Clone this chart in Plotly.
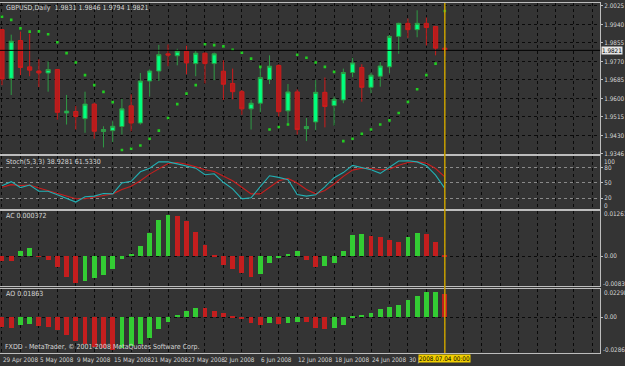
import plotly.graph_objects as go

W, H = 625, 366

# ---------------- data ----------------
symbol = "GBPUSD,Daily"
opens = [1.9916, 1.9692, 1.9866, 1.9745, 1.9726, 1.9717, 1.9733, 1.9533, 1.9540, 1.9507,
         1.9574, 1.9448, 1.9452, 1.9471, 1.9566, 1.9487, 1.9680, 1.9726, 1.9805, 1.9796,
         1.9817, 1.9760, 1.9808, 1.9760, 1.9725, 1.9669, 1.9631, 1.9552, 1.9578, 1.9687,
         1.9751, 1.9543, 1.9630, 1.9461, 1.9492, 1.9628, 1.9567, 1.9593, 1.9719, 1.9742,
         1.9651, 1.9702, 1.9745, 1.9885, 1.9945, 1.9916, 1.9945, 1.9931, 1.9831]
highs = [1.9920, 1.9893, 1.9907, 1.9898, 1.9780, 1.9770, 1.9735, 1.9616, 1.9566, 1.9631,
         1.9580, 1.9472, 1.9495, 1.9598, 1.9619, 1.9717, 1.9734, 1.9846, 1.9848, 1.9828,
         1.9843, 1.9820, 1.9811, 1.9811, 1.9775, 1.9737, 1.9639, 1.9593, 1.9745, 1.9798,
         1.9757, 1.9666, 1.9642, 1.9510, 1.9684, 1.9696, 1.9608, 1.9737, 1.9787, 1.9757,
         1.9717, 1.9767, 1.9892, 1.9948, 1.9967, 2.0005, 1.9972, 1.9931, 1.9846]
lows = [1.9661, 1.9616, 1.9707, 1.9702, 1.9652, 1.9631, 1.9502, 1.9480, 1.9457, 1.9442,
        1.9415, 1.9375, 1.9399, 1.9434, 1.9449, 1.9480, 1.9608, 1.9680, 1.9748, 1.9752,
        1.9711, 1.9702, 1.9669, 1.9684, 1.9593, 1.9596, 1.9525, 1.9457, 1.9536, 1.9666,
        1.9517, 1.9480, 1.9434, 1.9404, 1.9454, 1.9467, 1.9475, 1.9578, 1.9696, 1.9585,
        1.9624, 1.9654, 1.9715, 1.9805, 1.9878, 1.9881, 1.9843, 1.9798, 1.9794]
closes = [1.9689, 1.9863, 1.9742, 1.9730, 1.9717, 1.9733, 1.9536, 1.9542, 1.9517, 1.9574,
          1.9449, 1.9457, 1.9472, 1.9552, 1.9487, 1.9680, 1.9726, 1.9801, 1.9799, 1.9817,
          1.9763, 1.9808, 1.9760, 1.9805, 1.9665, 1.9631, 1.9552, 1.9578, 1.9696, 1.9748,
          1.9539, 1.9630, 1.9457, 1.9471, 1.9628, 1.9563, 1.9596, 1.9719, 1.9763, 1.9651,
          1.9707, 1.9749, 1.9885, 1.9945, 1.9916, 1.9945, 1.9926, 1.9831, 1.9821]
sar = [1.9975, 1.9961, 1.9922, 1.9907, 1.9908, 1.9895, 1.9858, 1.9808, 1.9765, 1.9707,
       1.9661, 1.9630, 1.9583, 1.9363, 1.9369, 1.9384, 1.9415, 1.9452, 1.9510, 1.9574,
       1.9622, 1.9661, 1.9849, 1.9845, 1.9839, 1.9824, 1.9810, 1.9783, 1.9745, 1.9457,
       1.9469, 1.9480, 1.9801, 1.9787, 1.9765, 1.9745, 1.9722, 1.9404, 1.9415, 1.9437,
       1.9457, 1.9480, 1.9499, 1.9533, 1.9584, 1.9642, 1.9707, 1.9760, 2.0002]
stoch_k = [44.4, 52.2, 40.6, 45.7, 33.5, 33.5, 26.4, 18.6, 12.2, 22.5,
           23.8, 29.0, 28.3, 49.6, 52.8, 71.5, 78.6, 90.9, 90.9, 87.0,
           83.1, 78.6, 65.7, 67.7, 50.9, 38.0, 18.6, 20.6, 42.5, 63.8,
           60.6, 56.1, 27.0, 23.8, 26.4, 42.0, 60.0, 70.0, 84.0, 79.9,
           75.4, 68.5, 80.5, 92.8, 93.2, 90.9, 83.6, 65.1, 38.9281]
stoch_d = [41.2, 46.4, 44.4, 45.7, 39.9, 34.8, 29.6, 23.8, 18.6, 18.6,
           21.2, 25.1, 28.3, 36.7, 43.2, 54.1, 67.0, 78.0, 87.7, 89.6,
           86.4, 81.2, 75.4, 72.2, 63.8, 54.1, 41.2, 28.3, 28.3, 41.2,
           54.1, 58.6, 49.6, 36.7, 28.3, 34.8, 47.7, 62.5, 74.8, 78.6,
           78.0, 75.4, 76.7, 84.4, 89.6, 91.5, 88.3, 78.0, 61.5330]
ac = [-0.0012, -0.0014, 0.0015, 0.0023, -0.0001, -0.0009, -0.0029, -0.0056, -0.0075, -0.0068,
      -0.0061, -0.0052, -0.0034, -0.0007, 0.0008, 0.0030, 0.0066, 0.0102, 0.0116, 0.0113,
      0.0097, 0.0068, 0.0033, 0.0003, -0.0023, -0.0034, -0.0047, -0.0056, -0.0048, -0.0018,
      -0.0005, 0.0007, 0.0014, -0.0011, -0.0029, -0.0027, -0.0018, 0.0016, 0.0060, 0.0063,
      0.0056, 0.0053, 0.0045, 0.0041, 0.0055, 0.0066, 0.0062, 0.0041, 0.000372]
ao = [-0.0081, -0.0087, -0.0062, -0.0054, -0.0068, -0.0076, -0.0103, -0.0144, -0.0190, -0.0217,
      -0.0238, -0.0250, -0.0260, -0.0244, -0.0230, -0.0217, -0.0168, -0.0095, -0.0035, 0.0019,
      0.0054, 0.0076, 0.0073, 0.0054, 0.0035, 0.0014, -0.0014, -0.0046, -0.0062, -0.0049,
      -0.0054, -0.0046, -0.0035, -0.0041, -0.0087, -0.0095, -0.0089, -0.0062, 0.0005, 0.0022,
      0.0038, 0.0068, 0.0087, 0.0103, 0.0144, 0.0176, 0.0206, 0.0209, 0.01863]
tick_labels = ["29 Apr 2008", "5 May 2008", "9 May 2008", "15 May 2008", "21 May 2008",
               "27 May 2008", "2 Jun 2008", "6 Jun 2008", "12 Jun 2008", "18 Jun 2008",
               "24 Jun 2008", "30 Jun 2008"]
label_step = 4
last_time = "2008.07.04 00:00"
price_ticks = [2.0025, 1.9940, 1.9855, 1.9770, 1.9685, 1.9600, 1.9515, 1.9430, 1.9346]
stoch_levels = [80, 50, 20]
stoch_edges = (100, 0)
ac_edges = (0.01261, -0.00839)
ao_edges = (0.02298, -0.02866)
footer = "FXDD - MetaTrader, © 2001-2008 MetaQuotes Software Corp."

# ---------------- style ----------------
BG = "#343434"
FRAME = "#bdbdbd"
TXT = "#d6d6d6"
GRID = "#0a0a0a"
GREEN = "#33cc33"
RED = "#c41e1e"
FONT = "Liberation Sans Narrow, DejaVu Sans Condensed, Liberation Sans, sans-serif"
FS = 7
FS_SMALL = 6.3

n = len(closes)
bars = list(range(n))


def py(px):
    return 1 - px / H


def updown(vals):
    return [GREEN if (i > 0 and v > vals[i - 1]) else RED for i, v in enumerate(vals)]


fig = go.Figure()

fig.add_trace(go.Candlestick(
    x=bars, open=opens, high=highs, low=lows, close=closes,
    increasing=dict(line=dict(color="#2f9a45", width=1), fillcolor="#00ff7f"),
    decreasing=dict(line=dict(color="#cc1c1c", width=1), fillcolor="#b81c1c"),
    whiskerwidth=0, xaxis="x", yaxis="y", showlegend=False, hoverinfo="skip"))

fig.add_trace(go.Scatter(
    x=bars, y=sar, mode="markers",
    marker=dict(symbol="square", size=2.6, color="#22cc22", line=dict(width=0)),
    xaxis="x", yaxis="y", showlegend=False, hoverinfo="skip"))

fig.add_trace(go.Scatter(x=bars, y=stoch_d, mode="lines",
                         line=dict(color="#c81e1e", width=1.1),
                         xaxis="x2", yaxis="y2", showlegend=False, hoverinfo="skip"))
fig.add_trace(go.Scatter(x=bars, y=stoch_k, mode="lines",
                         line=dict(color="#22b0b4", width=1.1),
                         xaxis="x2", yaxis="y2", showlegend=False, hoverinfo="skip"))

fig.add_trace(go.Bar(x=bars, y=ac, marker=dict(color=updown(ac), line=dict(width=0)),
                     width=0.52, xaxis="x3", yaxis="y3", showlegend=False, hoverinfo="skip"))
fig.add_trace(go.Bar(x=bars, y=ao, marker=dict(color=updown(ao), line=dict(width=0)),
                     width=0.52, xaxis="x4", yaxis="y4", showlegend=False, hoverinfo="skip"))

bar_px = 9.27
x_left = -2 / bar_px
x_right = x_left + 603 / bar_px
xdom = [0, 603 / W]

xcommon = dict(domain=xdom, range=[x_left, x_right], tickmode="linear", tick0=0, dtick=2,
               showticklabels=False, ticks="", showgrid=True, gridcolor=GRID, gridwidth=1,
               griddash="3px,3px", zeroline=False, showline=True, linecolor=FRAME,
               linewidth=1, mirror=True, fixedrange=True)

ycommon = dict(side="right", showline=True, linecolor=FRAME, linewidth=1, ticks="outside",
               ticklen=2, tickcolor=FRAME, zeroline=False, showgrid=True, gridcolor=GRID,
               griddash="3px,3px", tickfont=dict(family=FONT, size=FS_SMALL, color=TXT),
               fixedrange=True)

fig.update_layout(
    width=W, height=H, autosize=False,
    margin=dict(l=0, r=0, t=0, b=0),
    paper_bgcolor=BG, plot_bgcolor=BG,
    boxgap=0.35, bargap=0,
    font=dict(family=FONT, size=FS, color=TXT),
    xaxis=dict(anchor="y", rangeslider=dict(visible=False), **xcommon),
    xaxis2=dict(anchor="y2", matches="x", **xcommon),
    xaxis3=dict(anchor="y3", matches="x", **xcommon),
    xaxis4=dict(anchor="y4", matches="x", **xcommon),
    yaxis=dict(anchor="x", domain=[py(155), py(2)], range=[1.93432, 2.00386],
               tickmode="array", tickvals=price_ticks,
               ticktext=[f"{v:.4f}" for v in price_ticks], **ycommon),
    yaxis2=dict(anchor="x2", domain=[py(210), py(157)], range=[-0.8, 101.9],
                tickmode="array", tickvals=stoch_levels,
                ticktext=[str(v) for v in stoch_levels],
                **{**ycommon, "gridcolor": "#8a8a8a"}),
    yaxis3=dict(anchor="x3", domain=[py(288.5), py(212)], range=[ac_edges[1], ac_edges[0]],
                tickmode="array", tickvals=[0], ticktext=["0.00"], **ycommon),
    yaxis4=dict(anchor="x4", domain=[py(355.5), py(291)], range=[ao_edges[1], ao_edges[0]],
                tickmode="array", tickvals=[0], ticktext=["0.00"], **ycommon),
)

shapes = [
    dict(type="line", xref="x domain", x0=0, x1=1, yref="y", y0=closes[-1], y1=closes[-1],
         line=dict(color="#000000", width=1), layer="above"),
    dict(type="line", xref="x", x0=bars[-1], x1=bars[-1], yref="paper", y0=py(356), y1=py(2),
         line=dict(color="#c8a000", width=1.5), layer="above"),
]
fig.update_layout(shapes=shapes)

ann = []


def txt(x_px, y_px, s, color=TXT, xanchor="left", yanchor="middle", size=FS):
    ann.append(dict(x=x_px / W, y=py(y_px), xref="paper", yref="paper", text=s,
                    showarrow=False, xanchor=xanchor, yanchor=yanchor,
                    font=dict(family=FONT, size=size, color=color)))


title = f"{symbol}  {opens[-1]:.4f} {highs[-1]:.4f} {lows[-1]:.4f} {closes[-1]:.4f}"
txt(4, 7, title)
txt(4, 163, f"Stoch(5,3,3) {stoch_k[-1]:.4f} {stoch_d[-1]:.4f}")
txt(4, 217, f"AC {ac[-1]:.6f}")
txt(4, 296, f"AO {ao[-1]:.5f}")
txt(3, 350, footer)

txt(605, 162, str(stoch_edges[0]), size=FS_SMALL)
txt(605, 206.5, str(stoch_edges[1]), size=FS_SMALL)
txt(605, 214.5, f"{ac_edges[0]:.5f}", size=FS_SMALL)
txt(604, 286, f"{ac_edges[1]:.5f}", size=FS_SMALL)
txt(605, 295, f"{ao_edges[0]:.5f}", size=FS_SMALL)
txt(604, 352.5, f"{ao_edges[1]:.5f}", size=FS_SMALL)

for i, lab in enumerate(tick_labels):
    ann.append(dict(x=i * label_step, y=py(357), xref="x4", yref="paper", text=lab,
                    showarrow=False, xanchor="left", yanchor="top", xshift=-1,
                    font=dict(family=FONT, size=FS_SMALL, color=TXT)))

ann.append(dict(x=bars[-1], y=py(357), xref="x4", yref="paper", text=last_time,
                showarrow=False, xanchor="center", yanchor="top", bgcolor="#f2cf00",
                borderpad=0, font=dict(family=FONT, size=FS_SMALL, color="#000000")))

ann.append(dict(x=604 / W, y=closes[-1], xref="paper", yref="y", text=f"{closes[-1]:.4f}",
                showarrow=False, xanchor="left", yanchor="middle", bgcolor="#e6e6e6",
                borderpad=0, font=dict(family=FONT, size=FS_SMALL, color="#000000")))

fig.update_layout(annotations=ann)

fig.write_html("out.html")
